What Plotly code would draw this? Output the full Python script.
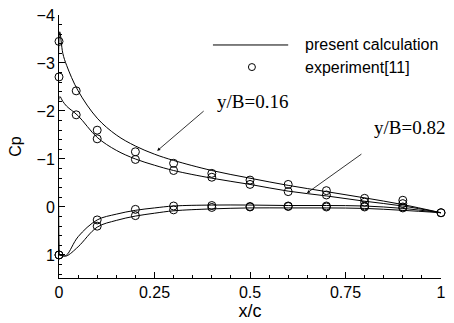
import plotly.graph_objects as go

# ---- data ----
x_calc = [0.0, 0.002, 0.01, 0.02, 0.05, 0.1, 0.15, 0.2, 0.25, 0.3, 0.4, 0.5, 0.6, 0.7, 0.8, 0.9, 1.0]
cp016_upper = [1.0, -3.65, -3.2, -2.95, -2.42, -1.85, -1.5, -1.27, -1.1, -0.97, -0.76, -0.6, -0.45, -0.32, -0.19, -0.05, 0.12]
cp082_upper = [1.0, -2.3, -2.2, -2.1, -1.9, -1.45, -1.18, -1.0, -0.87, -0.76, -0.6, -0.47, -0.33, -0.23, -0.12, -0.02, 0.12]
cp016_lower = [1.0, 1.0, 1.02, 1.0, 0.62, 0.27, 0.15, 0.07, 0.02, -0.02, -0.04, -0.04, -0.03, -0.03, -0.02, 0.03, 0.12]
cp082_lower = [1.0, 1.0, 1.02, 1.02, 0.83, 0.42, 0.28, 0.19, 0.13, 0.08, 0.04, 0.02, 0.02, 0.02, 0.03, 0.07, 0.12]

x_exp = [0.0, 0.045, 0.1, 0.2, 0.3, 0.4, 0.5, 0.6, 0.7, 0.8, 0.9, 1.0]
exp016_upper = [-3.45, -2.42, -1.6, -1.15, -0.91, -0.70, -0.56, -0.47, -0.34, -0.18, -0.14, 0.12]
exp082_upper = [-2.71, -1.92, -1.42, -0.99, -0.76, -0.62, -0.47, -0.32, -0.25, -0.10, -0.07, 0.12]
x_exp_lower = [0.0, 0.1, 0.2, 0.3, 0.4, 0.5, 0.6, 0.7, 0.8, 0.9]
exp016_lower = [1.0, 0.27, 0.05, -0.02, -0.03, -0.01, -0.02, -0.02, -0.02, 0.0]
exp082_lower = [1.0, 0.40, 0.18, 0.06, 0.01, 0.0, -0.01, 0.0, 0.0, 0.02]

y_ticks = [-4, -3, -2, -1, 0, 1]
x_ticks = [0, 0.25, 0.5, 0.75, 1]
x_tick_text = ["0", "0.25", "0.5", "0.75", "1"]

fig = go.Figure()
line_style = dict(color="black", width=1)
for cp in (cp016_upper, cp082_upper, cp016_lower, cp082_lower):
    fig.add_trace(go.Scatter(x=x_calc, y=cp, mode="lines", line=line_style,
                             line_shape="spline", showlegend=False))

marker_style = dict(symbol="circle-open", size=8, color="black", line=dict(width=1, color="black"))
for xs, cp in ((x_exp, exp016_upper), (x_exp, exp082_upper),
               (x_exp_lower, exp016_lower), (x_exp_lower, exp082_lower)):
    fig.add_trace(go.Scatter(x=xs, y=cp, mode="markers", marker=marker_style,
                             showlegend=False, cliponaxis=False))

font_sans = "Liberation Sans, Arial, sans-serif"
font_serif = "Liberation Serif, Times New Roman, serif"

fig.update_layout(
    width=454, height=323,
    margin=dict(l=59, r=13, t=15, b=45, autoexpand=False),
    paper_bgcolor="white", plot_bgcolor="white",
    showlegend=False,
    font=dict(family=font_sans, size=16, color="black"),
    xaxis=dict(range=[0, 1], tickvals=x_ticks, ticktext=x_tick_text, automargin=False,
               ticks="inside", ticklen=6, tickwidth=1, tickcolor="black",
               showline=True, linecolor="black", linewidth=1, mirror=False,
               showgrid=False, zeroline=False,
               minor=dict(dtick=0.05, ticks="inside", ticklen=3, tickcolor="black", showgrid=False),
               title=dict(text="x/c", font=dict(size=18), standoff=4),
               tickfont=dict(size=16)),
    yaxis=dict(range=[1.48, -4], tickvals=y_ticks, automargin=False,
               ticks="inside", ticklen=6, tickwidth=1, tickcolor="black",
               showline=True, linecolor="black", linewidth=1, mirror=False,
               showgrid=False, zeroline=False,
               minor=dict(dtick=0.2, ticks="inside", ticklen=3, tickcolor="black", showgrid=False),
               title=dict(text="Cp", font=dict(size=16), standoff=10),
               tickfont=dict(size=16)),
)

# legend drawn as shapes/annotations in paper coordinates
fig.add_shape(type="line", xref="paper", yref="paper", x0=0.403, x1=0.6, y0=0.886, y1=0.886,
              line=dict(color="black", width=1))
fig.add_shape(type="circle", xref="paper", yref="paper", xsizemode="pixel", ysizemode="pixel",
              xanchor=0.505, yanchor=0.802, x0=-3.5, x1=3.5, y0=-3.5, y1=3.5,
              line=dict(color="black", width=1))
fig.add_annotation(xref="paper", yref="paper", x=0.639, y=0.886, text="present calculation",
                   showarrow=False, xanchor="left", yanchor="middle", font=dict(size=16))
fig.add_annotation(xref="paper", yref="paper", x=0.639, y=0.802, text="experiment[11]",
                   showarrow=False, xanchor="left", yanchor="middle", font=dict(size=16))

# station labels with arrows
fig.add_annotation(x=0.257, y=-1.17, ax=48, ay=-41, text="", showarrow=True,
                   arrowhead=2, arrowsize=0.8, arrowwidth=0.8, arrowcolor="black", standoff=0)
fig.add_annotation(x=(215 - 59) / 382, y=-2.2, text="y/B=0.16", showarrow=False,
                   xanchor="left", yanchor="middle", font=dict(family=font_serif, size=19))
fig.add_annotation(x=0.649, y=-0.29, ax=56, ay=-40, text="", showarrow=True,
                   arrowhead=2, arrowsize=0.8, arrowwidth=0.8, arrowcolor="black", standoff=0)
fig.add_annotation(x=(372 - 59) / 382, y=-1.65, text="y/B=0.82", showarrow=False,
                   xanchor="left", yanchor="middle", font=dict(family=font_serif, size=19))

fig.write_html("out.html", config={"displayModeBar": False},
               post_script="document.body.style.margin='0';")
